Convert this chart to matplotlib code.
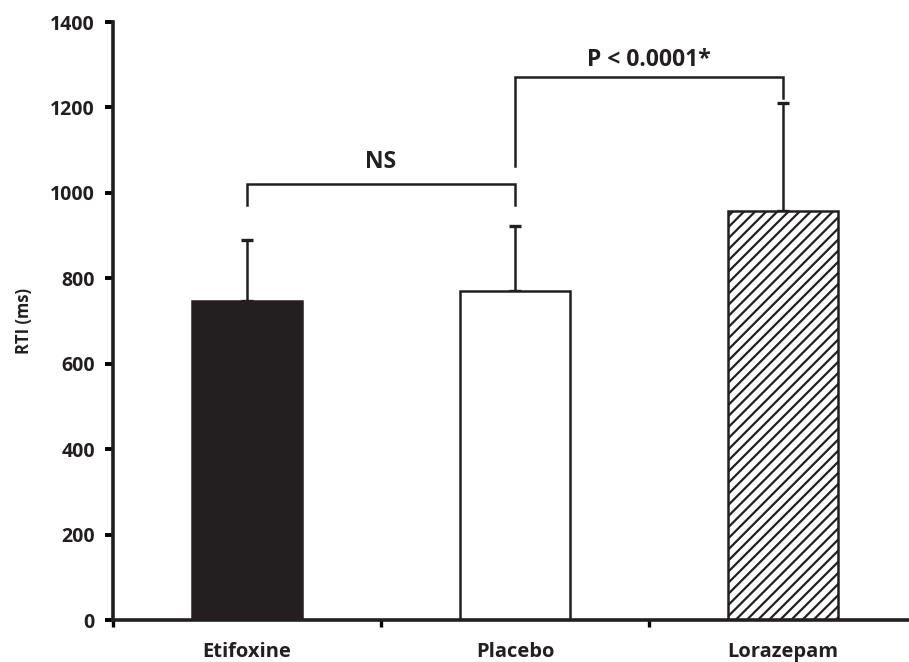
import matplotlib
matplotlib.use("Agg")
import matplotlib.pyplot as plt

groups = ["Etifoxine", "Placebo", "Lorazepam"]
means = [747, 770, 958]
sd_upper = [143, 152, 252]
y_ticks = [0, 200, 400, 600, 800, 1000, 1200, 1400]

INK = "#231f20"

plt.rcParams["font.family"] = ["Open Sans", "DejaVu Sans"]
plt.rcParams["font.weight"] = "bold"
plt.rcParams["hatch.linewidth"] = 1.6

fig = plt.figure(figsize=(9.09, 6.62), dpi=100)
ax = fig.add_axes([113 / 909, 42 / 662, 804 / 909, 598 / 662])

x = list(range(len(groups)))
faces = [INK, "white", "white"]
hatches = [None, None, "///"]
bars = ax.bar(x, means, width=0.41, color=faces, edgecolor=INK,
              linewidth=1.8, zorder=2)
for b, h in zip(bars, hatches):
    if h:
        b.set_hatch(h)

ax.errorbar(x, means, yerr=[[0, 0, 0], sd_upper], fmt="none",
            ecolor=INK, elinewidth=1.8, capsize=4, capthick=2.4, zorder=1)


def bracket(x0, x1, y, d0, d1, label, gap):
    ax.plot([x0, x0, x1, x1], [y - d0, y, y, y - d1], color=INK,
            lw=1.8, solid_joinstyle="miter", clip_on=False)
    ax.text((x0 + x1) / 2, y + gap, label, ha="center", va="bottom",
            fontsize=16.5, fontweight="bold", color=INK)


bracket(0, 1, 1021, 50, 50, "NS", 22)
bracket(1, 2, 1272, 210, 50, "P < 0.0001*", 12)

ax.set_xlim(-0.5, 2.5)
ax.set_ylim(0, 1400)
ax.set_yticks(y_ticks)
ax.set_xticks([-0.5, 0.5, 1.5])
ax.set_xticklabels([])
ax.set_xticks(x, minor=True)
ax.set_xticklabels(groups, minor=True)
ax.tick_params(axis="x", which="minor", length=0, pad=16, labelsize=14.5)
ax.tick_params(axis="x", which="major", direction="out", length=5, width=2.4)
ax.tick_params(axis="y", direction="out", length=6, width=2.8, labelsize=14, pad=7)
for lab in ax.get_xticklabels(minor=True) + ax.get_yticklabels():
    lab.set_fontweight("bold")
    lab.set_color(INK)

ax.set_ylabel("RTI (ms)", fontsize=12, fontweight="bold", color=INK, labelpad=12)

for s in ["top", "right"]:
    ax.spines[s].set_visible(False)
for s in ["left", "bottom"]:
    ax.spines[s].set_linewidth(2.6)
    ax.spines[s].set_color(INK)

fig.savefig("out.png", dpi=100)
